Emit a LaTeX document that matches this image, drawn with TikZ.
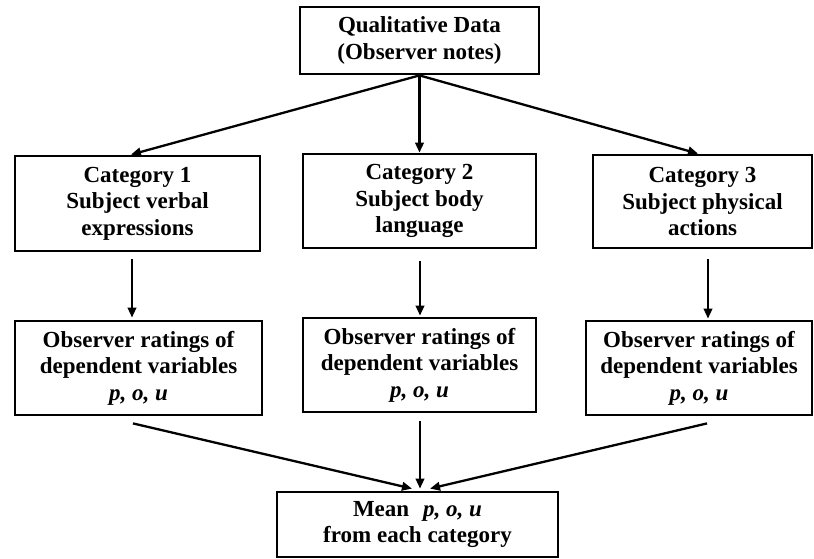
\documentclass[tikz,border=0pt]{standalone}
\usepackage{fontspec}
\setmainfont{Liberation Serif}
\usetikzlibrary{arrows.meta,calc}
\begin{document}
\begin{tikzpicture}[x=1pt,y=-1pt,
  box/.style={draw,line width=2.8pt,rectangle,inner sep=0pt,align=center,
    font=\fontsize{23}{26.5}\selectfont\bfseries},
  arr/.style={line width=2.3pt,-{Triangle[length=10pt,width=8.5pt]}}]
\useasboundingbox (0,0) rectangle (814,558);
\fill[white] (0,0) rectangle (814,558);

% source box
\node[box,minimum width=239pt,minimum height=67pt] (data) at (419.5,40.5)
  {Qualitative Data\\(Observer notes)};

% category boxes
\node[box,minimum width=245pt,minimum height=95pt] (cat1) at (137.5,203.5)
  {Category 1\\Subject verbal\\expressions};
\node[box,minimum width=233pt,minimum height=94pt] (cat2) at (419.5,201)
  {Category 2\\Subject body\\language};
\node[box,minimum width=219pt,minimum height=93pt] (cat3) at (702.5,201.5)
  {Category 3\\Subject physical\\actions};

% rating boxes
\node[box,minimum width=247pt,minimum height=94pt] (obs1) at (138.5,368)
  {Observer ratings of\\dependent variables\\\textit{p, o, u}};
\node[box,minimum width=233pt,minimum height=94pt] (obs2) at (419.5,365)
  {Observer ratings of\\dependent variables\\\textit{p, o, u}};
\node[box,minimum width=226pt,minimum height=94pt] (obs3) at (699,368)
  {Observer ratings of\\dependent variables\\\textit{p, o, u}};

% result box
\node[box,minimum width=281pt,minimum height=65pt] (mean) at (417.5,524.5)
  {Mean\hspace{14pt}\textit{p, o, u}\\from each category};

% source to categories
\draw[arr] (data.south) -- ([xshift=-6.5pt]cat1.north);
\draw[arr] (data.south) -- (cat2.north);
\draw[arr] (data.south) -- ([xshift=-4.5pt]cat3.north);

% categories to ratings
\draw[arr,shorten <=7pt,shorten >=2pt] ([xshift=-5.5pt]cat1.south) -- ([xshift=-6.5pt]obs1.north);
\draw[arr,shorten <=12pt,shorten >=1pt] ([xshift=0.5pt]cat2.south) -- ([xshift=0.5pt]obs2.north);
\draw[arr,shorten <=10pt,shorten >=1pt] ([xshift=5.5pt]cat3.south) -- ([xshift=9pt]obs3.north);

% ratings to result
\draw[arr] ($(obs1.south)+(-5.5,7)$) -- ($(mean.north)+(-5.5,-2)$);
\draw[arr] ($(obs2.south)+(0.5,8)$) -- ($(mean.north)+(2.5,-2)$);
\draw[arr] ($(obs3.south)+(8,7)$) -- ($(mean.north)+(12.5,-2)$);
\end{tikzpicture}
\end{document}
